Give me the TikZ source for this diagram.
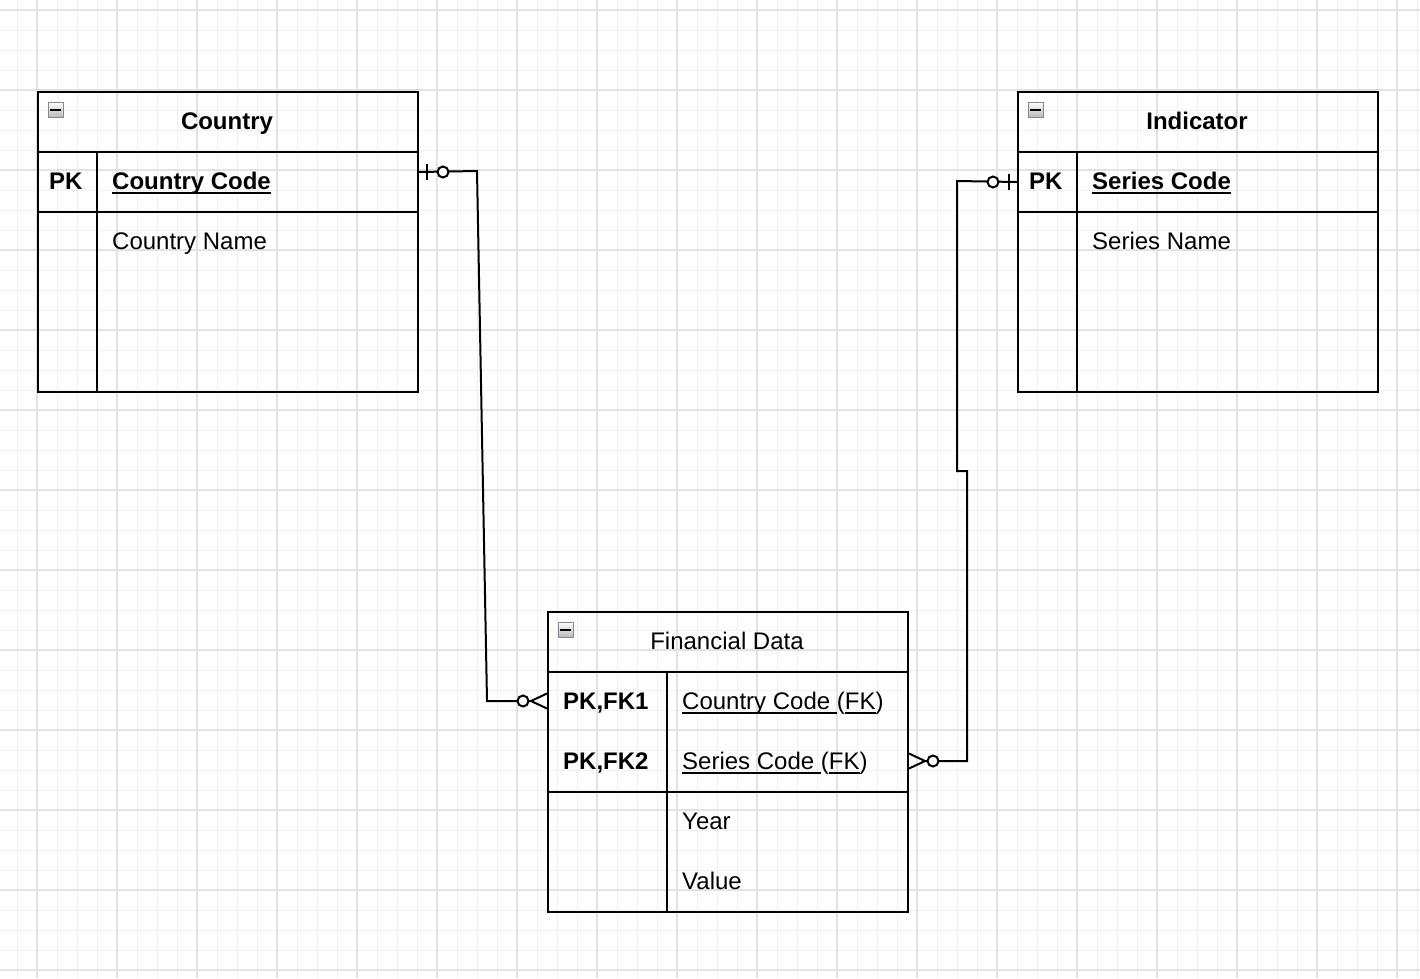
\documentclass[tikz,border=0pt]{standalone}
\usepackage{fontspec}
\setmainfont{Liberation Sans}
\usetikzlibrary{calc}
\definecolor{minorc}{HTML}{F0F0F0}
\definecolor{majorc}{HTML}{E2E2E2}
\definecolor{iconborder}{HTML}{868A96}
\newcommand\ulx[1]{\setbox0\hbox{#1}\leavevmode\rlap{\rule[-5pt]{\wd0}{2.4pt}}\box0}
\begin{document}
\begin{tikzpicture}[x=1pt,y=-1pt,
  minorgrid/.style={draw=minorc, line width=1pt},
  majorgrid/.style={draw=majorc, line width=1.6pt},
  tbl/.style={draw, line width=2pt, anchor=north west, inner sep=0pt},
  txt/.style={anchor=base west, inner sep=0pt, font=\fontsize{24}{28}\selectfont},
  ttl/.style={anchor=base, inner sep=0pt, font=\fontsize{24}{28}\selectfont},
  icon/.style={draw=iconborder, line width=1.6pt, top color=white, bottom color=black!28, minimum size=15pt, inner sep=0pt, anchor=north west},
  conn/.style={line width=2pt},
  ring/.style={circle, draw, line width=2pt, fill=white, minimum size=11pt, inner sep=0pt}
]
\useasboundingbox (0,0) rectangle (1420,978);
\fill[white] (0,0) rectangle (1420,978);
% grid
\foreach \x in {17,37,...,1417} \draw[minorgrid] (\x,0) -- (\x,978);
\foreach \y in {10,30,...,970} \draw[minorgrid] (0,\y) -- (1420,\y);
\foreach \x in {37,117,...,1417} \draw[majorgrid] (\x,0) -- (\x,978);
\foreach \y in {10,90,...,970} \draw[majorgrid] (0,\y) -- (1420,\y);

% ---------- Country ----------
\node[tbl, minimum width=380pt, minimum height=300pt] (country) at (37,91) {};
\node[tbl, minimum width=380pt, minimum height=60pt] (countrypk) at (37,151) {};
\draw[line width=2pt] (97,151) -- (97,391);
\node[icon] (countryicon) at (47.5,101.5) {};
\draw[line width=2.4pt] ($(countryicon.center)+(-5.5,0)$) -- ($(countryicon.center)+(5.5,0)$);
\node[ttl] (countryttl) at (227,129) {\bfseries Country};
\node[txt] (countrypkl) at (49,189) {\bfseries PK};
\node[txt] (countrycode) at (112,189) {\bfseries\ulx{Country Code}};
\node[txt] (countryname) at (112,249) {Country Name};

% ---------- Indicator ----------
\node[tbl, minimum width=360pt, minimum height=300pt] (ind) at (1017,91) {};
\node[tbl, minimum width=360pt, minimum height=60pt] (indpk) at (1017,151) {};
\draw[line width=2pt] (1077,151) -- (1077,391);
\node[icon] (indicon) at (1027.5,101.5) {};
\draw[line width=2.4pt] ($(indicon.center)+(-5.5,0)$) -- ($(indicon.center)+(5.5,0)$);
\node[ttl] (indttl) at (1197,129) {\bfseries Indicator};
\node[txt] (indpkl) at (1029,189) {\bfseries PK};
\node[txt] (indcode) at (1092,189) {\bfseries\ulx{Series Code}};
\node[txt] (indname) at (1092,249) {Series Name};

% ---------- Financial Data ----------
\node[tbl, minimum width=360pt, minimum height=300pt] (fd) at (547,611) {};
\node[tbl, minimum width=360pt, minimum height=120pt] (fdpk) at (547,671) {};
\draw[line width=2pt] (667,671) -- (667,911);
\node[icon] (fdicon) at (557.5,621.5) {};
\draw[line width=2.4pt] ($(fdicon.center)+(-5.5,0)$) -- ($(fdicon.center)+(5.5,0)$);
\node[ttl] (fdttl) at (727,649) {Financial Data};
\node[txt] (fdpk1) at (563,709) {\bfseries PK,FK1};
\node[txt] (fdpk2) at (563,769) {\bfseries PK,FK2};
\node[txt] (fdcc) at (682,709) {\ulx{Country Code }(\ulx{FK})};
\node[txt] (fdsc) at (682,769) {\ulx{Series Code }(\ulx{FK})};
\node[txt] (fdyear) at (682,829) {Year};
\node[txt] (fdvalue) at (682,889) {Value};

% ---------- Connector 1: Country -> Financial Data ----------
\coordinate (a0) at ($(countrypk.east)+(0,-10)$);
\coordinate (a1) at (477,171);
\coordinate (a2) at (487,701);
\coordinate (a3) at (fd.west |- 0,701);
\draw[conn] (a0) -- (a1) -- (a2) -- ($(a3)+(-16,0)$);
\draw[conn] ($(a0)+(8,-8)$) -- ($(a0)+(8,8)$);
\node[ring] (ra) at ($(a0)+(24,0)$) {};
\node[ring] (rb) at ($(a3)+(-24,0)$) {};
\draw[conn] ($(a3)+(-16,0)$) -- ($(a3)+(0,-7.5)$);
\draw[conn] ($(a3)+(-16,0)$) -- ($(a3)+(0,7.5)$);

% ---------- Connector 2: Indicator -> Financial Data ----------
\coordinate (b0) at ($(indpk.west)$);
\coordinate (b1) at (957,181);
\coordinate (b2) at (957,471);
\coordinate (b3) at (967,471);
\coordinate (b4) at (967,761);
\coordinate (b5) at (fd.east |- 0,761);
\draw[conn] (b0) -- (b1) -- (b2) -- (b3) -- (b4) -- ($(b5)+(16,0)$);
\draw[conn] ($(b0)+(-8,-8)$) -- ($(b0)+(-8,8)$);
\node[ring] (rc) at ($(b0)+(-24,0)$) {};
\node[ring] (rd) at ($(b5)+(24,0)$) {};
\draw[conn] ($(b5)+(16,0)$) -- ($(b5)+(0,-7.5)$);
\draw[conn] ($(b5)+(16,0)$) -- ($(b5)+(0,7.5)$);
\end{tikzpicture}
\end{document}
